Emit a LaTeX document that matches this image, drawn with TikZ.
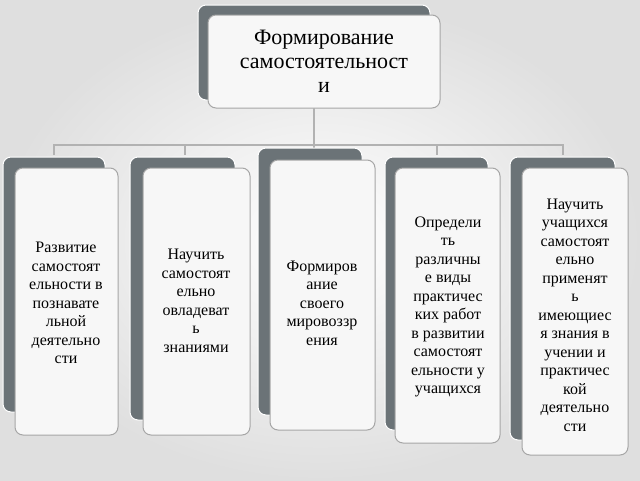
\documentclass[tikz,border=0pt]{standalone}
\usepackage{fontspec}
\setmainfont{Liberation Serif}
\definecolor{darkbox}{HTML}{6B7377}
\begin{document}
\begin{tikzpicture}[x=1pt,y=-1pt,
  back/.style={fill=darkbox,rounded corners=8pt,draw=white,line width=1pt},
  front/.style={fill=gray!6,draw=gray!70,rounded corners=8pt,line width=1pt},
  txt/.style={align=center,font=\fontsize{16}{18.5}\selectfont},
  conn/.style={draw=gray!60,line width=1.3pt}]
\useasboundingbox (0,0) rectangle (640,480);
\shade[inner color=white,outer color=gray!25] (0,0) rectangle (640,480);
% top
\draw[back] (198,5) rectangle (430,100);
\draw[front] (208,15) rectangle (440,108);
\node[txt,font=\fontsize{22}{24}\selectfont] (top) at (324,61) {Формирование\\самостоятельност\\и};
\coordinate (tb) at (314,108);
\coordinate (hm) at (314,145);
\draw[conn] (tb) -- (hm);
\draw[conn] (54,155) -- (54,145) -- (563,145) -- (563,155);
\draw[conn] (185,145) -- (185,155);
\draw[conn] (437,145) -- (437,155);
\draw[conn] (314,145) -- (314,150);
% columns
\draw[back] (3,157) rectangle (105,412);
\draw[front] (15,168) rectangle (118,435);
\node[txt] (c1) at (66,303) {Развитие\\самостоят\\ельности в\\познавате\\льной\\деятельно\\сти};
\draw[back] (130,157) rectangle (235,420);
\draw[front] (143,168) rectangle (250,435);
\node[txt] (c2) at (196,301) {Научить\\самостоят\\ельно\\овладеват\\ь\\знаниями};
\draw[back] (258,148) rectangle (362,415);
\draw[front] (270,160) rectangle (375,430);
\node[txt] (c3) at (322,303) {Формиров\\ание\\своего\\мировоззр\\ения};
\draw[back] (385,157) rectangle (488,430);
\draw[front] (395,168) rectangle (500,443);
\node[txt] (c4) at (448,307) {Определи\\ть\\различны\\е виды\\практичес\\ких работ\\в развитии\\самостоят\\ельности у\\учащихся};
\draw[back] (510,157) rectangle (615,440);
\draw[front] (522,168) rectangle (628,455);
\node[txt] (c5) at (575,315) {Научить\\учащихся\\самостоят\\ельно\\применят\\ь\\имеющиес\\я знания в\\учении и\\практичес\\кой\\деятельно\\сти};
\end{tikzpicture}
\end{document}
